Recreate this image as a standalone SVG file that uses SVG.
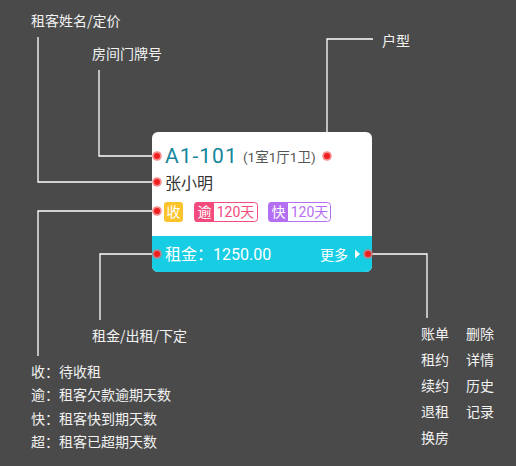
<svg xmlns="http://www.w3.org/2000/svg" width="516" height="466" viewBox="0 0 516 466">
<style>
.lbl{font-family:"Noto Sans CJK SC","Noto Sans",sans-serif;font-size:14px;fill:#f2f2f2}
.ln{fill:none;stroke:#ffffff;stroke-width:1.3}
.halo{fill:#f26a6a;opacity:0.75}
.dot{fill:#f01e1e}
.cj{font-family:Roboto,"Noto Sans CJK SC","Noto Sans",sans-serif}
</style>
<defs>
<g id="pt"><circle r="4.8" class="halo"/><circle r="3" class="dot"/></g>
</defs>
<rect width="516" height="466" fill="#4a4a4a"/>
<g id="connectors">
<polyline class="ln" points="38,37 38,182 152,182"/>
<polyline class="ln" points="99,70 99,156 152,156"/>
<polyline class="ln" points="373,39 327,39 327,132"/>
<polyline class="ln" points="152,211 38,211 38,356"/>
<polyline class="ln" points="152,254 100,254 100,320"/>
<polyline class="ln" points="372,254 427,254 427,318"/>
</g>
<g id="card">
<rect x="152" y="132" width="220" height="140" rx="6" fill="#ffffff"/>
<path d="M152,236 H372 V266 A6,6 0 0 1 366,272 H158 A6,6 0 0 1 152,266 Z" fill="#17cde4"/>
<text x="165" y="163" font-family="Roboto,sans-serif" font-size="21" fill="#15869a" letter-spacing="1">A1-101</text>
<text x="243" y="162" class="cj" font-size="13.5" fill="#555555">(1室1厅1卫)</text>
<text x="165" y="189" class="cj" font-size="16" fill="#333333">张小明</text>
<rect x="164" y="202" width="19" height="20" rx="3" fill="#fcc42c"/>
<text x="173.5" y="217" class="cj" font-size="14" fill="#ffffff" text-anchor="middle">收</text>
<rect x="194.5" y="202.5" width="63" height="19" rx="3" fill="#ffffff" stroke="#f34b7e" stroke-width="1"/>
<path d="M197.5,202 H214 V222 H197.5 A3,3 0 0 1 194.5,219 V205 A3,3 0 0 1 197.5,202 Z" fill="#f34b7e"/>
<text x="204.5" y="217" class="cj" font-size="14" fill="#ffffff" text-anchor="middle">逾</text>
<text x="235.5" y="217" class="cj" font-size="14" fill="#f34b7e" text-anchor="middle">120天</text>
<rect x="268.5" y="202.5" width="62" height="19" rx="3" fill="#ffffff" stroke="#b46ef2" stroke-width="1"/>
<path d="M271.5,202 H288 V222 H271.5 A3,3 0 0 1 268.5,219 V205 A3,3 0 0 1 271.5,202 Z" fill="#b46ef2"/>
<text x="278.5" y="217" class="cj" font-size="14" fill="#ffffff" text-anchor="middle">快</text>
<text x="309.5" y="217" class="cj" font-size="14" fill="#b46ef2" text-anchor="middle">120天</text>
<text x="165" y="260" class="cj" font-size="16" fill="#ffffff">租金：1250.00</text>
<text x="320" y="260" class="cj" font-size="14" fill="#ffffff">更多</text>
<polygon points="355,249.5 360,254 355,258.5" fill="#ffffff"/>
<use href="#pt" x="157" y="156"/>
<use href="#pt" x="157" y="182"/>
<use href="#pt" x="157" y="211"/>
<use href="#pt" x="157" y="254"/>
<use href="#pt" x="327" y="156"/>
<use href="#pt" x="368" y="254"/>
</g>
<g id="labels">
<text x="31" y="26" class="lbl">租客姓名/定价</text>
<text x="92" y="59" class="lbl">房间门牌号</text>
<text x="382" y="46" class="lbl">户型</text>
<text x="92" y="341" class="lbl">租金/出租/下定</text>
</g>
<g id="legend">
<text x="31" y="377" class="lbl">收：待收租</text>
<text x="31" y="400" class="lbl">逾：租客欠款逾期天数</text>
<text x="31" y="424" class="lbl">快：租客快到期天数</text>
<text x="31" y="447" class="lbl">超：租客已超期天数</text>
</g>
<g id="actions">
<text x="421" y="339" class="lbl">账单</text>
<text x="466" y="339" class="lbl">删除</text>
<text x="421" y="365" class="lbl">租约</text>
<text x="466" y="365" class="lbl">详情</text>
<text x="421" y="391" class="lbl">续约</text>
<text x="466" y="391" class="lbl">历史</text>
<text x="421" y="417" class="lbl">退租</text>
<text x="466" y="417" class="lbl">记录</text>
<text x="421" y="443" class="lbl">换房</text>
</g>
</svg>
